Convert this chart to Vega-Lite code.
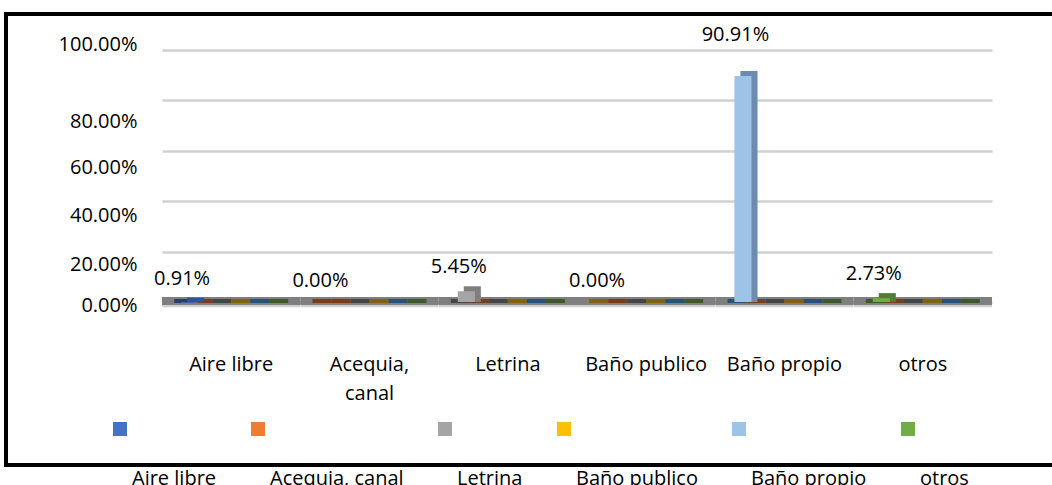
{
  "$schema": "https://vega.github.io/schema/vega-lite/v6.json",
  "width": 1051,
  "height": 451,
  "autosize": "none",
  "padding": {"left": 6, "top": 14, "right": -5, "bottom": 20},
  "background": "#ffffff",
  "config": {
    "font": "Open Sans",
    "view": {"stroke": "#000000", "strokeWidth": 4}
  },
  "data": {
    "values": [
      {"cat": "Aire libre", "slot": "s1", "serie": "Aire libre", "value": 0.0091},
      {"cat": "Aire libre", "slot": "s2", "serie": "Acequia, canal", "value": 0},
      {"cat": "Aire libre", "slot": "s3", "serie": "Letrina", "value": 0},
      {"cat": "Aire libre", "slot": "s4", "serie": "Baño publico", "value": 0},
      {"cat": "Aire libre", "slot": "s5", "serie": "Baño propio", "value": 0},
      {"cat": "Aire libre", "slot": "s6", "serie": "otros", "value": 0},
      {"cat": "Acequia, canal", "slot": "s1", "serie": "Acequia, canal", "value": 0},
      {"cat": "Acequia, canal", "slot": "s2", "serie": "Acequia, canal", "value": 0},
      {"cat": "Acequia, canal", "slot": "s3", "serie": "Letrina", "value": 0},
      {"cat": "Acequia, canal", "slot": "s4", "serie": "Baño publico", "value": 0},
      {"cat": "Acequia, canal", "slot": "s5", "serie": "Baño propio", "value": 0},
      {"cat": "Acequia, canal", "slot": "s6", "serie": "otros", "value": 0},
      {"cat": "Letrina", "slot": "s1", "serie": "Letrina", "value": 0.0545},
      {"cat": "Letrina", "slot": "s2", "serie": "Acequia, canal", "value": 0},
      {"cat": "Letrina", "slot": "s3", "serie": "Letrina", "value": 0},
      {"cat": "Letrina", "slot": "s4", "serie": "Baño publico", "value": 0},
      {"cat": "Letrina", "slot": "s5", "serie": "Baño propio", "value": 0},
      {"cat": "Letrina", "slot": "s6", "serie": "otros", "value": 0},
      {"cat": "Baño publico", "slot": "s1", "serie": "Baño publico", "value": 0},
      {"cat": "Baño publico", "slot": "s2", "serie": "Acequia, canal", "value": 0},
      {"cat": "Baño publico", "slot": "s3", "serie": "Letrina", "value": 0},
      {"cat": "Baño publico", "slot": "s4", "serie": "Baño publico", "value": 0},
      {"cat": "Baño publico", "slot": "s5", "serie": "Baño propio", "value": 0},
      {"cat": "Baño publico", "slot": "s6", "serie": "otros", "value": 0},
      {"cat": "Baño propio", "slot": "s1", "serie": "Baño propio", "value": 0.9091},
      {"cat": "Baño propio", "slot": "s2", "serie": "Acequia, canal", "value": 0},
      {"cat": "Baño propio", "slot": "s3", "serie": "Letrina", "value": 0},
      {"cat": "Baño propio", "slot": "s4", "serie": "Baño publico", "value": 0},
      {"cat": "Baño propio", "slot": "s5", "serie": "Baño propio", "value": 0},
      {"cat": "Baño propio", "slot": "s6", "serie": "otros", "value": 0},
      {"cat": "otros", "slot": "s1", "serie": "otros", "value": 0.0273},
      {"cat": "otros", "slot": "s2", "serie": "Acequia, canal", "value": 0},
      {"cat": "otros", "slot": "s3", "serie": "Letrina", "value": 0},
      {"cat": "otros", "slot": "s4", "serie": "Baño publico", "value": 0},
      {"cat": "otros", "slot": "s5", "serie": "Baño propio", "value": 0},
      {"cat": "otros", "slot": "s6", "serie": "otros", "value": 0}
    ]
  },
  "encoding": {
    "x": {
      "field": "cat",
      "type": "nominal",
      "sort": null,
      "scale": {
        "domain": ["Aire libre", "Acequia, canal", "Letrina", "Baño publico", "Baño propio", "otros"],
        "range": [156, 986],
        "paddingInner": 0,
        "paddingOuter": 0
      },
      "axis": {
        "orient": "bottom",
        "offset": -111,
        "domain": false,
        "ticks": false,
        "labelPadding": 0,
        "labelBaseline": "top",
        "labelAngle": 0,
        "labelFontSize": 20,
        "labelColor": "#000000",
        "labelLineHeight": 29,
        "labelExpr": "datum.value === 'Acequia, canal' ? ['Acequia,', 'canal'] : datum.value",
        "title": null
      }
    }
  },
  "layer": [
    {
      "transform": [{"filter": "datum.slot === 's1'"}],
      "mark": {"type": "bar", "color": "#d0d0d0"},
      "encoding": {
        "y": {
          "datum": -0.021,
          "type": "quantitative",
          "scale": {"domain": [-0.64683, 1.14286], "nice": false, "zero": false},
          "axis": {
            "values": [0, 0.2, 0.4, 0.6, 0.8, 1],
            "format": ".2%",
            "grid": true,
            "gridColor": "#d0d0d0",
            "gridWidth": 2.5,
            "domain": false,
            "ticks": false,
            "labelPadding": 4,
            "offset": -135,
            "title": null,
            "labelFontSize": 20,
            "labelColor": "#000000",
            "labelOffset": {
              "condition": [
                {"test": "datum.value >= 1", "value": -6},
                {"test": "datum.value >= 0.8", "value": 21},
                {"test": "datum.value >= 0.6", "value": 17},
                {"test": "datum.value >= 0.4", "value": 14},
                {"test": "datum.value >= 0.2", "value": 13}
              ],
              "value": 4
            }
          }
        },
        "y2": {"datum": -0.012}
      }
    },
    {
      "transform": [{"filter": "datum.slot === 's1'"}],
      "mark": {"type": "bar", "color": "#7f7f7f"},
      "encoding": {
        "y": {"datum": -0.012, "type": "quantitative"},
        "y2": {"datum": 0.02}
      }
    },
    {
      "mark": {"type": "bar", "opacity": 0.9},
      "encoding": {
        "xOffset": {"field": "slot", "type": "nominal", "scale": {"domain": ["s1", "s2", "s3", "s4", "s5", "s6"], "paddingInner": 0, "paddingOuter": 0.64, "align": 0.5}},
        "y": {"datum": -0.004, "type": "quantitative"},
        "y2": {"datum": 0.012},
        "color": {
          "field": "serie",
          "type": "nominal",
          "scale": {
            "domain": ["Aire libre", "Acequia, canal", "Letrina", "Baño publico", "Baño propio", "otros"],
            "range": ["#203864", "#7a3510", "#404040", "#7f6000", "#1f4e79", "#375623"]
          },
          "legend": null
        }
      }
    },
    {
      "transform": [{"filter": "datum.value > 0"}],
      "mark": {"type": "bar", "yOffset": -2, "width": {"band": 0.9}},
      "encoding": {
        "xOffset": {"field": "slot", "type": "nominal", "scale": {"domain": ["s1", "s2", "s3", "s4", "s5", "s6"], "paddingInner": 0, "paddingOuter": 0.64, "align": 0.747}},
        "y": {"field": "value", "type": "quantitative"},
        "y2": {"datum": 0},
        "color": {
          "field": "serie",
          "type": "nominal",
          "scale": {
            "domain": ["Aire libre", "Acequia, canal", "Letrina", "Baño publico", "Baño propio", "otros"],
            "range": ["#2f5597", "#c55a11", "#7f7f7f", "#bf9000", "#6a8cae", "#507e32"]
          },
          "legend": null
        }
      }
    },
    {
      "transform": [{"filter": "datum.value > 0"}],
      "mark": {"type": "bar", "yOffset": 3, "width": {"band": 0.9}},
      "encoding": {
        "xOffset": {"field": "slot", "type": "nominal", "scale": {"domain": ["s1", "s2", "s3", "s4", "s5", "s6"], "paddingInner": 0, "paddingOuter": 0.64, "align": 0.5}},
        "y": {"field": "value", "type": "quantitative"},
        "y2": {"datum": 0},
        "color": {
          "field": "serie",
          "type": "nominal",
          "scale": {
            "domain": ["Aire libre", "Acequia, canal", "Letrina", "Baño publico", "Baño propio", "otros"],
            "range": ["#4472c4", "#ed7d31", "#a5a5a5", "#ffc000", "#9dc3e6", "#70ad47"]
          },
          "legend": {
            "orient": "none",
            "legendX": 104,
            "legendY": 405,
            "direction": "horizontal",
            "columns": 6,
            "title": null,
            "symbolType": "square",
            "symbolSize": 196,
            "symbolStrokeWidth": 0,
            "labelOffset": 2,
            "columnPadding": 31,
            "labelFontSize": 20,
            "labelColor": "#000000",
            "padding": 0,
            "encode": {
              "labels": {"update": {"dy": {"value": 50}}},
              "symbols": {
                "enter": {"fill": {"signal": "datum.value === 'Baño propio' ? '#5b9bd5' : scale('layer_4_color', datum.value)"}},
                "update": {"fill": {"signal": "datum.value === 'Baño propio' ? '#5b9bd5' : scale('layer_4_color', datum.value)"}}
              }
            }
          }
        }
      }
    },
    {
      "transform": [{"filter": "datum.slot === 's1'"}],
      "mark": {"type": "text", "fontSize": 20, "color": "#000000", "baseline": "middle", "align": "center", "dx": 6, "dy": {"expr": "datum.value > 0.5 ? -38 : -21"}},
      "encoding": {
        "xOffset": {"field": "slot", "type": "nominal", "scale": {"domain": ["s1", "s2", "s3", "s4", "s5", "s6"], "paddingInner": 0, "paddingOuter": 0.64, "align": 0.5}},
        "y": {"field": "value", "type": "quantitative"},
        "text": {"field": "value", "type": "quantitative", "format": ".2%"}
      }
    }
  ],
  "resolve": {"scale": {"color": "independent", "xOffset": "independent"}}
}
